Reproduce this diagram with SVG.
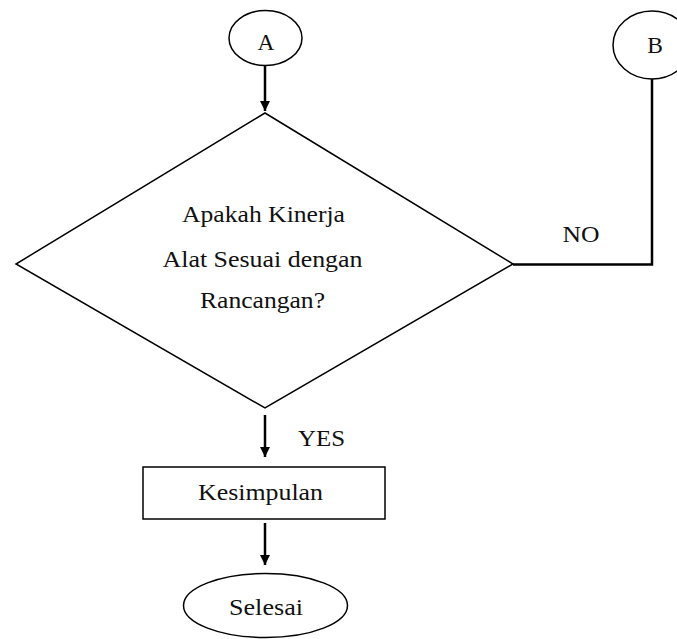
<svg xmlns="http://www.w3.org/2000/svg" width="677" height="639" viewBox="0 0 677 639">
<defs>
<style>
.shape{fill:#fff;stroke:#000;stroke-width:1.5}
.conn{fill:none;stroke:#000;stroke-width:2.5}
text{font-family:"Liberation Serif","Times New Roman",serif;font-size:23.5px;fill:#111;text-anchor:middle}
</style>
<marker id="arr" viewBox="0 0 10 10" refX="10" refY="5" markerWidth="4" markerHeight="4.6" orient="auto" markerUnits="strokeWidth">
<path d="M0,0 L10,5 L0,10 z" fill="#000"/>
</marker>
</defs>
<rect width="677" height="639" fill="#fff"/>
<g id="connectors">
<line class="conn" x1="265" y1="66" x2="265" y2="111" marker-end="url(#arr)"/>
<polyline class="conn" points="652,79 652,264.5 513,264.5"/>
<line class="conn" x1="265" y1="415" x2="265" y2="457" marker-end="url(#arr)"/>
<line class="conn" x1="265" y1="523" x2="265" y2="565" marker-end="url(#arr)"/>
<text x="581" y="242" textLength="37" lengthAdjust="spacingAndGlyphs">NO</text>
<text x="321.5" y="446" textLength="47" lengthAdjust="spacingAndGlyphs">YES</text>
</g>
<g id="nodeA">
<ellipse class="shape" cx="265.5" cy="38" rx="36.5" ry="27.5"/>
<text x="266" y="50">A</text>
</g>
<g id="nodeB">
<ellipse class="shape" cx="652" cy="45" rx="39" ry="34"/>
<text x="655" y="53">B</text>
</g>
<g id="decision">
<polygon class="shape" points="265,113 513,264 265,408 16,264"/>
<text x="263.5" y="222" textLength="163" lengthAdjust="spacingAndGlyphs">Apakah Kinerja</text>
<text x="262.5" y="267" textLength="200" lengthAdjust="spacingAndGlyphs">Alat Sesuai dengan</text>
<text x="262.5" y="308" textLength="125" lengthAdjust="spacingAndGlyphs">Rancangan?</text>
</g>
<g id="kesimpulan">
<rect class="shape" x="143" y="467" width="242" height="52" stroke-width="2"/>
<text x="260.5" y="500" textLength="125" lengthAdjust="spacingAndGlyphs">Kesimpulan</text>
</g>
<g id="selesai">
<ellipse class="shape" cx="265.5" cy="605.5" rx="82" ry="32"/>
<text x="266" y="615" textLength="74" lengthAdjust="spacingAndGlyphs">Selesai</text>
</g>
</svg>
